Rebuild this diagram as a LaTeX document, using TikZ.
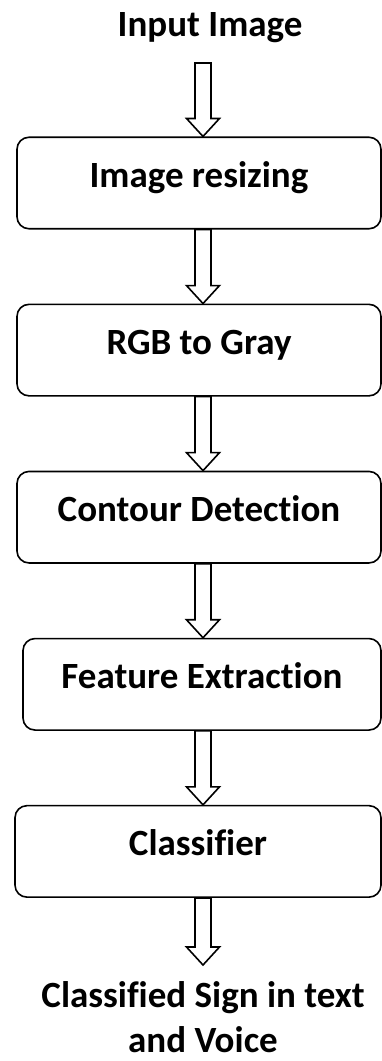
\documentclass[tikz,border=0pt]{standalone}
\usepackage{fontspec}
\setmainfont[Ligatures=NoCommon]{Carlito}
\usepackage{tikz}
\usetikzlibrary{positioning}
\usetikzlibrary{calc}

\begin{document}
\begin{tikzpicture}
          [x=1pt, y=1pt, node distance=74pt,
           every node/.style={font=\bfseries\fontsize{37}{45}\selectfont, inner sep=0pt},
           box/.style={draw, line width=1.6pt, rounded corners=12pt,
             minimum width=364pt, minimum height=91.5pt,
             text height=25pt, text depth=16.5pt},
           flow/.style={draw, line width=1.6pt, line join=miter}]
          \useasboundingbox (0,0) rectangle (382,-1061);

          \node (input) [anchor=base] at (210,-36) {Input Image};
          \node (resize) [box] at (199,-183) {Image resizing};
          \node (gray) [box, below = of resize] {RGB to Gray};
          \node (contour) [box, below = of gray] {Contour Detection};
          \node (feature) [box, below = of contour, minimum width=358pt, xshift=3pt] {Feature Extraction};
          \node (classifier) [box, below = of feature, minimum width=366pt, xshift=-4pt] {Classifier};
          \node (output) [anchor=base, align=center] at (203,-1052) {Classified Sign in text\\and Voice};

          \coordinate (ax) at (203,0);
          \coordinate (src) at (203,-63);
          \coordinate (dst) at (203,-965);

          % hollow block arrows
          \foreach \a/\b in {src/resize.north, resize.south/gray.north, gray.south/contour.north,
                             contour.south/feature.north, feature.south/classifier.north, classifier.south/dst}
          {
            \path (\a -| ax) coordinate (fa) (\b -| ax) coordinate (fb);
            \draw[flow] ($(fa)+(-8,0)$) -- ($(fb)+(-8,18)$) -- ($(fb)+(-16.5,18)$) -- (fb)
                -- ($(fb)+(16.5,18)$) -- ($(fb)+(8,18)$) -- ($(fa)+(8,0)$) -- cycle;
          }
        \end{tikzpicture}
\end{document}
